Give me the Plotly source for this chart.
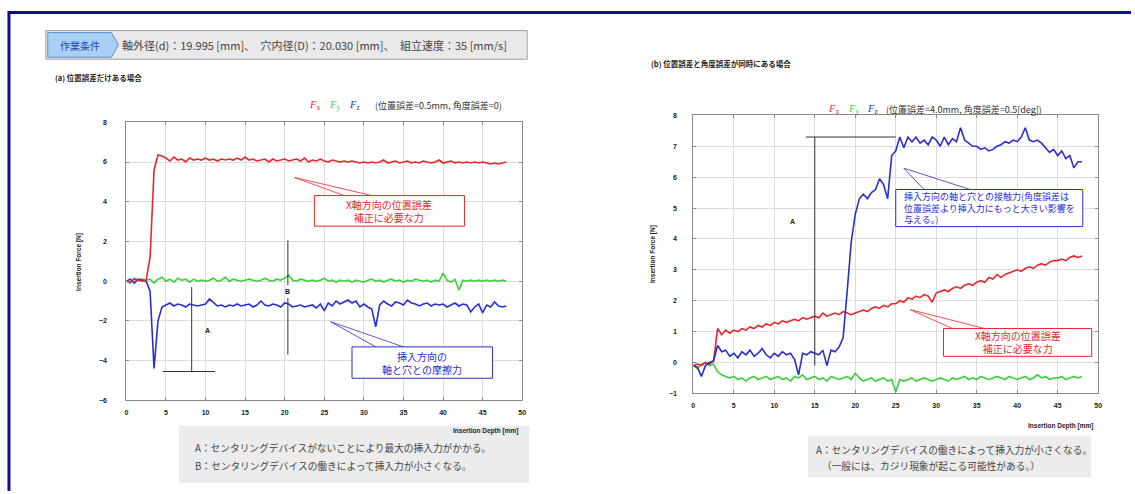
import plotly.graph_objects as go

# ---------------- data ----------------
depth = [0.0, 0.5, 1.0, 1.5, 2.0, 2.5, 3.0, 3.5, 4.0, 4.5,
         5.0, 5.5, 6.0, 6.5, 7.0, 7.5, 8.0, 8.5, 9.0, 9.5,
         10.0, 10.5, 11.0, 11.5, 12.0, 12.5, 13.0, 13.5, 14.0, 14.5,
         15.0, 15.5, 16.0, 16.5, 17.0, 17.5, 18.0, 18.5, 19.0, 19.5,
         20.0, 20.5, 21.0, 21.5, 22.0, 22.5, 23.0, 23.5, 24.0, 24.5,
         25.0, 25.5, 26.0, 26.5, 27.0, 27.5, 28.0, 28.5, 29.0, 29.5,
         30.0, 30.5, 31.0, 31.5, 32.0, 32.5, 33.0, 33.5, 34.0, 34.5,
         35.0, 35.5, 36.0, 36.5, 37.0, 37.5, 38.0, 38.5, 39.0, 39.5,
         40.0, 40.5, 41.0, 41.5, 42.0, 42.5, 43.0, 43.5, 44.0, 44.5,
         45.0, 45.5, 46.0, 46.5, 47.0, 47.5, 48.0]

# (a) position error only
a_fx = [0.0, -0.05, 0.1, 0.05, 0.0, 0.05, 1.2, 5.6, 6.35, 6.3,
        6.2, 6.05, 6.25, 6.1, 6.15, 6.0, 6.2, 6.1, 6.15, 6.1,
        6.2, 6.1, 6.15, 6.05, 6.15, 6.1, 6.15, 6.1, 6.2, 6.1,
        6.25, 6.1, 6.15, 6.05, 6.1, 6.15, 6.0, 6.15, 6.05, 6.1,
        6.15, 6.05, 6.1, 6.15, 6.05, 6.2, 6.0, 6.1, 6.05, 6.15,
        6.05, 6.0, 6.1, 6.05, 6.0, 6.05, 6.0, 6.05, 6.0, 5.95,
        6.0, 5.95, 6.0, 5.95, 6.0, 6.1, 5.95, 6.0, 6.05, 5.95,
        6.0, 6.05, 5.95, 6.0, 5.95, 6.05, 6.0, 5.95, 6.0, 6.1,
        5.95, 6.0, 6.05, 5.95, 6.0, 5.95, 6.0, 5.95, 6.0, 5.95,
        6.0, 5.95, 5.9, 5.95, 5.9, 5.95, 6.0]
a_fy = [0.0, -0.1, 0.15, 0.05, 0.1, 0.05, 0.1, -0.1, 0.1, 0.2,
        0.0, 0.1, -0.05, 0.15, 0.05, 0.1, -0.05, 0.1, 0.0, 0.05,
        0.0, 0.05, 0.15, 0.0, 0.05, 0.2, 0.0, 0.1, 0.05, 0.0,
        0.05, 0.1, 0.05, 0.0, 0.05, 0.15, 0.05, 0.0, 0.1, 0.05,
        0.15, 0.3, 0.05, 0.0, 0.1, 0.05, 0.0, 0.05, 0.0, 0.05,
        0.15, 0.0, 0.05, -0.05, 0.05, 0.0, 0.05, -0.05, 0.05, 0.0,
        -0.05, 0.05, 0.1, 0.0, 0.05, -0.05, 0.05, 0.1, 0.0, 0.05,
        -0.05, 0.05, 0.0, 0.1, 0.05, 0.0, 0.05, -0.05, 0.05, 0.0,
        0.4, 0.05, -0.05, 0.1, -0.45, 0.05, 0.0, 0.05, 0.0, 0.05,
        0.0, 0.05, 0.0, 0.05, 0.0, 0.05, 0.0]
a_fz = [0.0, 0.1, -0.1, 0.1, 0.05, 0.0, -0.5, -4.4, -2.0, -1.3,
        -1.2, -1.1, -1.25, -1.15, -1.2, -1.3, -1.15, -1.2, -1.25, -1.2,
        -1.15, -0.9, -1.1, -1.25, -1.2, -1.3, -1.2, -1.25, -1.15, -1.25,
        -1.2, -1.15, -1.3, -1.2, -1.0, -1.2, -1.25, -1.15, -1.2, -1.3,
        -1.1, -1.15, -1.3, -1.25, -1.2, -1.3, -1.25, -1.2, -1.35, -1.15,
        -1.5, -1.1, -1.25, -1.0, -1.15, -1.05, -0.95, -1.1, -1.0, -1.3,
        -1.15, -1.3, -1.4, -2.3, -1.2, -1.0, -1.15, -1.25, -1.05, -1.1,
        -1.2, -0.95, -1.1, -1.15, -1.25, -1.15, -1.1, -1.25, -1.15, -1.2,
        -1.15, -1.3, -1.2, -1.1, -1.25, -1.15, -1.2, -1.55, -1.3, -1.15,
        -1.6, -1.2, -1.3, -1.05, -1.25, -1.3, -1.25]

# (b) position + angle error
b_fx = [-0.1, -0.05, -0.1, 0.0, -0.05, 0.05, 1.1, 0.9, 1.05, 0.95,
        1.05, 1.0, 1.1, 1.05, 1.15, 1.1, 1.2, 1.15, 1.25, 1.2,
        1.3, 1.25, 1.35, 1.3, 1.35, 1.4, 1.35, 1.45, 1.4, 1.45,
        1.5, 1.45, 1.6, 1.5, 1.55, 1.6, 1.55, 1.65, 1.6, 1.55,
        1.6, 1.65, 1.7, 1.65, 1.75, 1.8, 1.75, 1.85, 1.8, 1.9,
        1.9, 2.0, 1.95, 2.1, 2.05, 2.15, 2.1, 2.2, 2.15, 1.95,
        2.25, 2.3, 2.35, 2.3, 2.4, 2.45, 2.4, 2.5, 2.55, 2.5,
        2.6, 2.65, 2.6, 2.75, 2.7, 2.85, 2.75, 2.85, 2.9, 2.95,
        3.0, 2.95, 3.05, 3.1, 3.05, 3.15, 3.2, 3.15, 3.25, 3.3,
        3.3, 3.35, 3.3, 3.4, 3.45, 3.4, 3.45]
b_fy = [-0.1, -0.2, -0.05, 0.0, -0.1, -0.05, -0.3, -0.4, -0.45, -0.5,
        -0.45, -0.55, -0.5, -0.6, -0.5, -0.45, -0.55, -0.5, -0.45, -0.55,
        -0.5, -0.45, -0.55, -0.5, -0.6, -0.45, -0.5, -0.4, -0.55, -0.5,
        -0.45, -0.55, -0.5, -0.6, -0.45, -0.5, -0.55, -0.5, -0.45, -0.55,
        -0.35, -0.5, -0.6, -0.55, -0.5, -0.6, -0.55, -0.5, -0.6, -0.55,
        -0.95, -0.55, -0.6, -0.55, -0.5, -0.6, -0.55, -0.5, -0.55, -0.6,
        -0.55, -0.5, -0.55, -0.6, -0.5, -0.55, -0.5, -0.45, -0.55, -0.5,
        -0.55, -0.45, -0.5, -0.55, -0.5, -0.45, -0.5, -0.55, -0.45, -0.5,
        -0.55, -0.5, -0.45, -0.55, -0.5, -0.4, -0.5, -0.45, -0.55, -0.5,
        -0.5, -0.45, -0.55, -0.5, -0.45, -0.5, -0.45]
b_fz = [-0.1, -0.15, -0.45, -0.1, 0.0, 0.05, 0.55, 0.35, 0.4, 0.2,
        0.3, 0.15, 0.35, 0.25, 0.4, 0.2, 0.3, 0.45, 0.25, 0.15,
        0.3, 0.2, 0.35, 0.25, 0.3, 0.1, -0.4, 0.3, 0.25, 0.35,
        0.3, 0.25, 0.4, -0.1, 0.4, 0.35, 0.5, 0.8, 2.3, 3.9,
        4.8, 5.3, 5.45, 5.3, 5.5, 5.6, 5.95, 5.75, 5.3, 6.7,
        6.85, 7.3, 6.95, 7.3, 7.15, 7.3, 7.1, 7.2, 7.05, 7.3,
        7.2, 7.0, 7.3, 7.05, 7.25, 7.15, 7.6, 7.2, 7.1, 7.0,
        7.0, 6.9, 6.95, 6.85, 6.9, 7.0, 7.05, 7.15, 7.1, 7.2,
        7.15, 7.3, 7.6, 7.2, 7.15, 7.2, 7.1, 6.95, 6.8, 6.9,
        6.7, 6.85, 6.6, 6.7, 6.3, 6.5, 6.5]

x_ticks = [0, 5, 10, 15, 20, 25, 30, 35, 40, 45, 50]
a_y_ticks = [-6, -4, -2, 0, 2, 4, 6, 8]
b_y_ticks = [-1, 0, 1, 2, 3, 4, 5, 6, 7, 8]

RED = "#e8262a"
GREEN = "#3ccf3c"
BLUE = "#2a2ed0"
NAVY = "#10108c"

W, H = 1135, 494
def PX(px):
    return px / W
def PY(py):
    return 1 - py / H

fig = go.Figure()
for ys, c in [(a_fy, GREEN), (a_fz, BLUE), (a_fx, RED)]:
    fig.add_trace(go.Scatter(x=depth, y=ys, mode="lines", line=dict(color=c, width=1.6),
                             xaxis="x", yaxis="y", showlegend=False))
for ys, c in [(b_fy, GREEN), (b_fx, RED), (b_fz, BLUE)]:
    fig.add_trace(go.Scatter(x=depth, y=ys, mode="lines", line=dict(color=c, width=1.6),
                             xaxis="x2", yaxis="y2", showlegend=False))

tickfont = dict(family="Liberation Sans", size=7, color="#222", weight="bold")
axcommon = dict(showgrid=True, gridcolor="#dcdcdc", gridwidth=1, zeroline=False,
                showline=True, linecolor="#8a8a8a", linewidth=1, mirror="allticks",
                ticks="inside", ticklen=3, tickcolor="#8a8a8a", tickfont=tickfont)

fig.update_layout(
    width=W, height=H, margin=dict(l=0, r=0, t=0, b=0),
    paper_bgcolor="white", plot_bgcolor="white", showlegend=False,
    xaxis=dict(domain=[PX(125), PX(523)], range=[0, 50], tickvals=x_ticks,
               anchor="y", ticklabelstandoff=5, **axcommon),
    yaxis=dict(domain=[PY(402), PY(120)], range=[-6, 8], tickvals=a_y_ticks,
               anchor="x", ticklabelstandoff=17, **axcommon),
    xaxis2=dict(domain=[PX(695), PX(1102)], range=[0, 50], tickvals=x_ticks,
                anchor="y2", ticklabelstandoff=5, **axcommon),
    yaxis2=dict(domain=[PY(395), PY(113)], range=[-1, 8], tickvals=b_y_ticks,
                anchor="x2", ticklabelstandoff=14, **axcommon),
)

shapes = []
ann = []

# outer navy border (top + left)
shapes.append(dict(type="line", xref="paper", yref="paper", x0=PX(6), x1=1.0, y0=PY(8.5), y1=PY(8.5),
                   line=dict(color=NAVY, width=3)))
shapes.append(dict(type="line", xref="paper", yref="paper", x0=PX(7), x1=PX(7), y0=PY(7), y1=0,
                   line=dict(color=NAVY, width=3)))

# header bar
shapes.append(dict(type="rect", xref="paper", yref="paper", x0=PX(44), x1=PX(528), y0=PY(56), y1=PY(27),
                   fillcolor="#e9e9e9", line=dict(color="#a0a0a0", width=1)))
shapes.append(dict(type="path", xref="paper", yref="paper",
                   path=f"M {PX(46)} {PY(29)} L {PX(110)} {PY(29)} L {PX(117)} {PY(41.5)} L {PX(110)} {PY(54)} L {PX(46)} {PY(54)} Z",
                   fillcolor="#a9cff5", line=dict(color="#5d8fd0", width=1)))
ann.append(dict(text="作業条件", xref="paper", yref="paper", x=PX(78), y=PY(42), showarrow=False,
                font=dict(family="Noto Sans CJK JP", size=10, color="#1d4fa8"), xanchor="center", yanchor="middle"))
ann.append(dict(text="軸外径(d)：19.995 [mm]、　穴内径(D)：20.030 [mm]、　組立速度：35 [mm/s]",
                xref="paper", yref="paper", x=PX(119), y=PY(42), showarrow=False,
                font=dict(family="Noto Sans CJK JP", size=11, color="#444"), xanchor="left", yanchor="middle"))

# subtitles
ann.append(dict(text="<b>(a) 位置誤差だけある場合</b>", xref="paper", yref="paper", x=PX(51), y=PY(75),
                showarrow=False, font=dict(family="Noto Sans CJK JP", size=7.5, color="#222"),
                xanchor="left", yanchor="middle"))
ann.append(dict(text="<b>(b) 位置誤差と角度誤差が同時にある場合</b>", xref="paper", yref="paper", x=PX(650), y=PY(60),
                showarrow=False, font=dict(family="Noto Sans CJK JP", size=7.5, color="#222"),
                xanchor="left", yanchor="middle"))

# legends
def legend(x0, y, note, gap):
    out = []
    for i, (lab, c) in enumerate([("x", RED), ("y", GREEN), ("z", BLUE)]):
        out.append(dict(text=f"<i>F</i><sub>{lab}</sub>", xref="paper", yref="paper", x=PX(x0 + i * 20), y=PY(y),
                        showarrow=False, font=dict(family="Liberation Serif", size=10.5, color=c),
                        xanchor="left", yanchor="middle"))
    out.append(dict(text=note, xref="paper", yref="paper", x=PX(x0 + gap), y=PY(y), showarrow=False,
                    font=dict(family="Noto Sans CJK JP", size=9, color="#333"), xanchor="left", yanchor="middle"))
    return out
ann += legend(307, 103, "(位置誤差=0.5mm, 角度誤差=0)", 66)
ann += legend(828, 107, "(位置誤差=4.0mm, 角度誤差=0.5[deg])", 59)

# axis titles
for ax_x, ax_y in [(78, 262), (655, 254)]:
    ann.append(dict(text="<b>Insertion Force [N]</b>", xref="paper", yref="paper", x=PX(ax_x), y=PY(ax_y),
                    textangle=-90, showarrow=False, font=dict(family="Liberation Sans", size=6.5, color="#222"),
                    xanchor="center", yanchor="middle"))
ann.append(dict(text="<b>Insertion Depth [mm]</b>", xref="paper", yref="paper", x=PX(521), y=PY(433),
                showarrow=False, font=dict(family="Liberation Sans", size=6.5, color="#222"),
                xanchor="right", yanchor="middle"))
ann.append(dict(text="<b>Insertion Depth [mm]</b>", xref="paper", yref="paper", x=PX(1099), y=PY(428),
                showarrow=False, font=dict(family="Liberation Sans", size=6.5, color="#222"),
                xanchor="right", yanchor="middle"))

# dimension lines (data coords)
DIM = dict(color="#333", width=1)
def seg(xr, yr, x0, y0, x1, y1, line=DIM):
    shapes.append(dict(type="line", xref=xr, yref=yr, x0=x0, y0=y0, x1=x1, y1=y1, line=line))

# (a) A
seg("x", "y", 8.25, -0.3, 8.25, -4.55)
seg("x", "y", 4.6, -4.55, 11.2, -4.55)
ann.append(dict(text="<b>A</b>", xref="x", yref="y", x=10.2, y=-2.5, showarrow=False,
                font=dict(family="Liberation Sans", size=7, color="#222")))
# (a) B
seg("x", "y", 20.4, 2.05, 20.4, -0.2)
seg("x", "y", 20.4, -0.85, 20.4, -3.7)
ann.append(dict(text="<b>B</b>", xref="x", yref="y", x=20.4, y=-0.5, showarrow=False,
                font=dict(family="Liberation Sans", size=7, color="#222")))
# (b) A
seg("x2", "y2", 15.0, 7.3, 15.0, -0.1)
seg("x2", "y2", 13.9, 7.3, 25.0, 7.3)
ann.append(dict(text="<b>A</b>", xref="x2", yref="y2", x=12.2, y=4.55, showarrow=False,
                font=dict(family="Liberation Sans", size=7, color="#222")))

# callout boxes
def callout(xr, yr, x0, x1, y0, y1, tip, base, color, text, fs=10, align="center"):
    for bx in base:
        seg(xr, yr, tip[0], tip[1], bx, y1, line=dict(color=color, width=0.8))
    shapes.append(dict(type="rect", xref=xr, yref=yr, x0=x0, x1=x1, y0=y0, y1=y1,
                       fillcolor="white", line=dict(color=color, width=1)))
    ann.append(dict(text=text, xref=xr, yref=yr, x=(x0 + x1) / 2, y=(y0 + y1) / 2, showarrow=False,
                    font=dict(family="Noto Sans CJK JP", size=fs, color=color), align=align,
                    xanchor="center", yanchor="middle"))

callout("x", "y", 23.75, 42.7, 2.77, 4.31, (21.25, 5.22), [27.5, 31.0], RED,
        "X軸方向の位置誤差<br>補正に必要な力")
callout("x", "y", 28.5, 46.25, -4.89, -3.31, (25.8, -2.04), [31.5, 35.0], BLUE,
        "挿入方向の<br>軸と穴との摩擦力")
callout("x2", "y2", 25.0, 48.1, 4.4, 5.6, (26.0, 6.29), [28.5, 34.2], BLUE,
        "挿入方向の軸と穴との接触力(角度誤差は<br>位置誤差より挿入力にもっと大きい影響を<br>与える。)", fs=9, align="left")
callout("x2", "y2", 30.9, 49.2, 0.2, 1.1, (26.8, 1.71), [32.0, 36.0], RED,
        "X軸方向の位置誤差<br>補正に必要な力")

# bottom notes
shapes.append(dict(type="rect", xref="paper", yref="paper", x0=PX(178), x1=PX(530), y0=PY(486), y1=PY(428),
                   fillcolor="#ececec", line=dict(width=0), layer="below"))
shapes.append(dict(type="rect", xref="paper", yref="paper", x0=PX(810), x1=PX(1095), y0=PY(480), y1=PY(438),
                   fillcolor="#ececec", line=dict(width=0), layer="below"))
notes = [
    ("A：センタリングデバイスがないことにより最大の挿入力がかかる。", 192, 450),
    ("B：センタリングデバイスの働きによって挿入力が小さくなる。", 192, 469),
    ("A：センタリングデバイスの働きによって挿入力が小さくなる。", 816, 452),
    ("（一般には、カジリ現象が起こる可能性がある。）", 822, 469),
]
for t, nx, ny in notes:
    ann.append(dict(text=t, xref="paper", yref="paper", x=PX(nx), y=PY(ny), showarrow=False, align="left",
                    font=dict(family="Noto Sans CJK JP", size=9.7, color="#444"), xanchor="left", yanchor="middle"))

fig.update_layout(shapes=shapes, annotations=ann)
fig.write_html("out.html", config={"displayModeBar": False},
               post_script="document.body.style.margin='0';document.body.style.padding='0';document.body.style.overflow='hidden';")
